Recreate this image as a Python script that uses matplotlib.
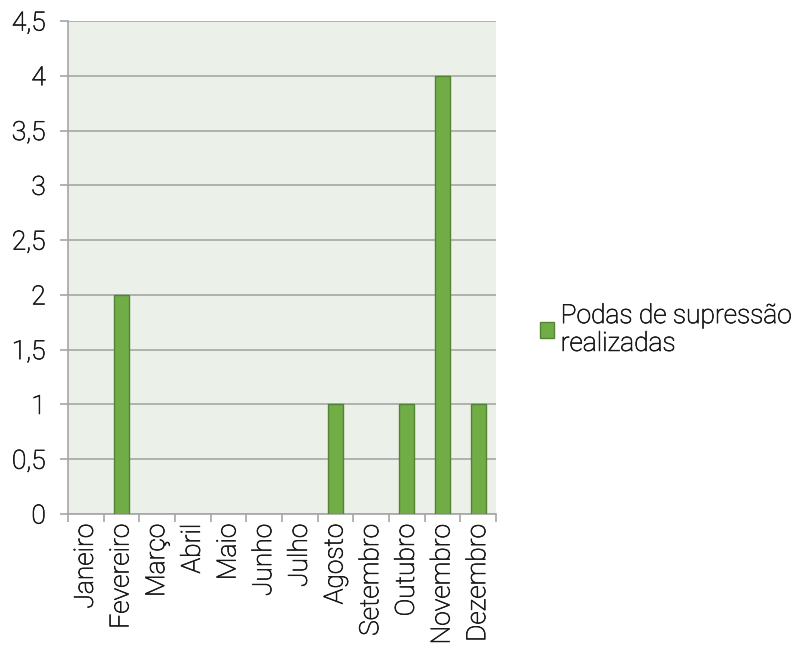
import matplotlib
matplotlib.use("Agg")
import matplotlib.pyplot as plt
import matplotlib.patheffects as pe
import numpy as np
from matplotlib.patches import Patch

plt.rcParams['font.family'] = ['Roboto', 'DejaVu Sans']
plt.rcParams['font.weight'] = 'light'
plt.rcParams['text.color'] = '#1A1A1A'
plt.rcParams['xtick.color'] = '#1A1A1A'
plt.rcParams['ytick.color'] = '#1A1A1A'

# dados
meses = ["Janeiro", "Fevereiro", "Março", "Abril", "Maio", "Junho", "Julho",
         "Agosto", "Setembro", "Outubro", "Novembro", "Dezembro"]
podas = [0, 2, 0, 0, 0, 0, 0, 1, 0, 1, 4, 1]
y_ticks = [0, 0.5, 1, 1.5, 2, 2.5, 3, 3.5, 4, 4.5]
serie = "Podas de supressão\nrealizadas"

BAR = '#70AD47'
EDGE = '#548235'
GRID = '#A6A6A6'
FS = 19
# engrossa levemente o traço do Roboto Light
THICK = [pe.withStroke(linewidth=0.5, foreground='#1A1A1A')]

fig = plt.figure(figsize=(8.02, 6.54), dpi=100)
ax = fig.add_axes([68 / 802, 1 - 514 / 654, (496 - 68) / 802, (514 - 21) / 654])
ax.set_facecolor('#EBF1E8')

x = np.arange(len(meses))
bars = ax.bar(x, podas, width=0.42, color=BAR, edgecolor=EDGE, linewidth=1, zorder=3)
for b, v in zip(bars, podas):
    if v == 0:
        b.set_visible(False)

ax.set_xlim(-0.5, len(meses) - 0.5)
ax.set_ylim(0, 4.5)

ax.set_yticks(y_ticks)
ax.set_yticklabels([f"{v:g}".replace('.', ',') for v in y_ticks], fontsize=FS)
ax.yaxis.grid(True, color=GRID, linewidth=1.2, zorder=1)
ax.tick_params(axis='y', length=6, width=1.2, color=GRID, labelcolor='#1A1A1A', pad=10)

# ticks entre categorias, rótulos no centro
ax.set_xticks(np.arange(-0.5, len(meses) + 0.5, 1))
ax.set_xticklabels([])
ax.set_xticks(x, minor=True)
ax.set_xticklabels(meses, minor=True, rotation=90, fontsize=FS, va='top')
ax.tick_params(axis='x', which='major', length=6, width=1.2, color=GRID)
ax.tick_params(axis='x', which='minor', length=0, pad=7, labelcolor='#1A1A1A')

for s in ['top', 'right']:
    ax.spines[s].set_visible(False)
for s in ['left', 'bottom']:
    ax.spines[s].set_color(GRID)
    ax.spines[s].set_linewidth(1.2)

handle = Patch(facecolor=BAR, edgecolor=EDGE, linewidth=1)
leg = fig.legend([handle], [serie], loc='center left', bbox_to_anchor=(529 / 802, 1 - 330 / 654),
                 frameon=False, fontsize=FS, handlelength=0.55, handleheight=0.55,
                 handletextpad=0.25, borderaxespad=0, labelspacing=0.15)

for t in ax.get_yticklabels() + ax.get_xticklabels(minor=True) + leg.get_texts():
    t.set_path_effects(THICK)

fig.savefig('out.png', dpi=100)
